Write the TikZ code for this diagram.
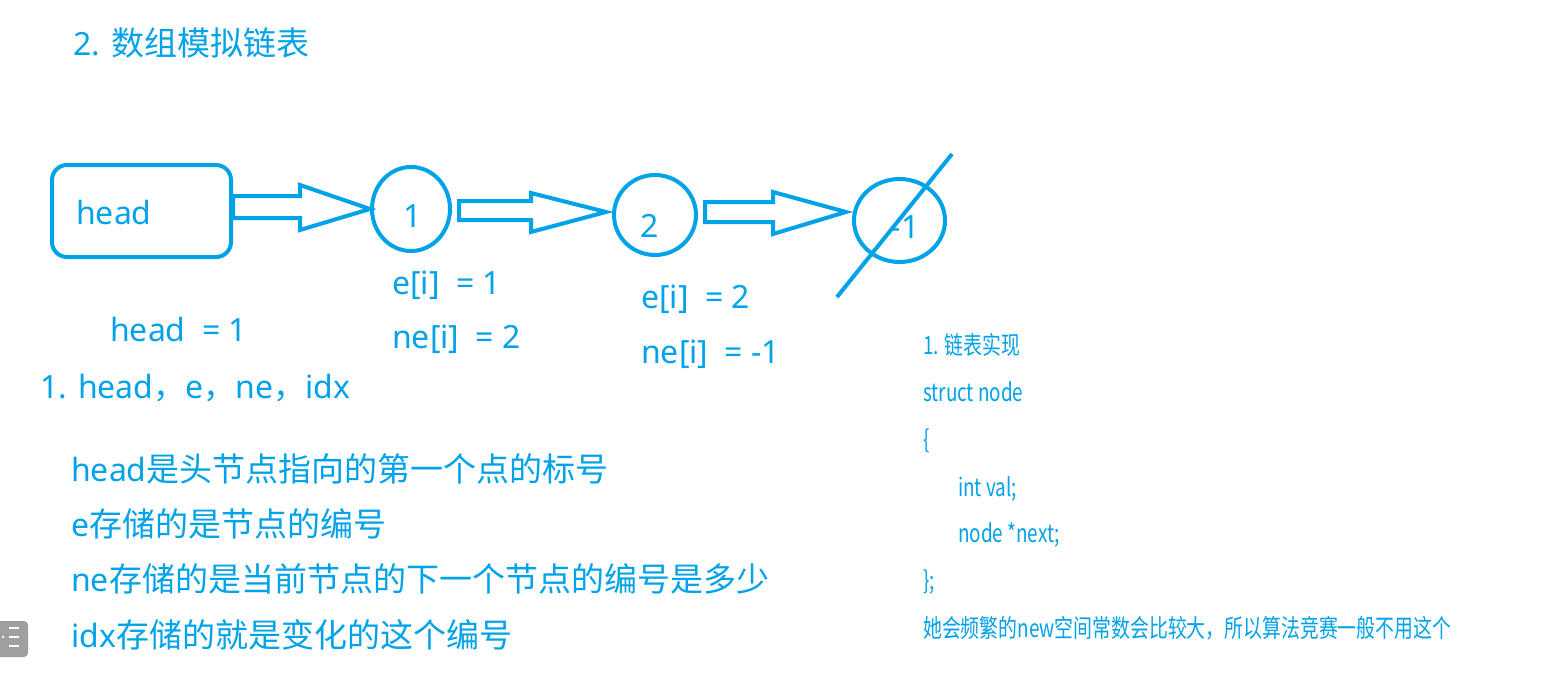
\documentclass[tikz,border=0pt]{standalone}
\usepackage{fontspec}
\setmainfont{Noto Sans}
\newfontfamily\cjk{Noto Sans CJK SC}
\newfontfamily\cond[FakeStretch=0.755]{Noto Sans CJK SC}
\newcommand\ck[1]{{\cjk\fontsize{33}{38}\selectfont #1}}
\usetikzlibrary{calc,shapes.geometric}
\definecolor{bl}{RGB}{0,162,232}
\begin{document}
\begin{tikzpicture}[x=1pt,y=-1pt,
  every node/.style={inner sep=0pt, text=bl},
  txt/.style={anchor=base west, font=\fontsize{32}{38}\selectfont},
  lbl/.style={anchor=base, font=\fontsize{32}{38}\selectfont},
  code/.style={anchor=base west, font=\cond\fontsize{25}{30}\selectfont},
  shp/.style={draw=bl, line width=4pt},
  blk/.style={draw=bl, line width=4pt, line join=miter}]
\useasboundingbox (0,0) rectangle (1551,677);
\fill[white] (0,0) rectangle (1551,677);

\node[txt] (title) at (73,56) {2. \ck{数组模拟链表}};

% list nodes
\node[shp, rectangle, rounded corners=15pt, minimum width=179pt, minimum height=92pt] (head) at (141.5,211) {};
\node[txt] (headlbl) at (76,224) {head};
\node[shp, ellipse, minimum width=78pt, minimum height=84pt] (n1) at (411,209) {};
\node[lbl] (n1lbl) at (413,227) {1};
\node[shp, ellipse, minimum width=82pt, minimum height=80pt] (n2) at (655,215) {};
\node[lbl] (n2lbl) at (650,237) {2};
\node[shp, ellipse, minimum width=91pt, minimum height=83pt] (n3) at (899.5,220.5) {};
\node[lbl] (n3lbl) at (905,238) {-1};
\draw[bl, line width=4pt] ($(n3.center)+(52.5,-66.5)$) -- ($(n3.center)+(-62.5,76.5)$);

% block arrows
\draw[blk] ($(head.east)+(0,-15)$) -- ($(n1.west)+(-70,-13)$) -- ($(n1.west)+(-70,-24)$)
  -- (n1.west) -- ($(n1.west)+(-70,21)$) -- ($(n1.west)+(-70,9)$) -- ($(head.east)+(0,7)$) -- cycle;
\draw[blk] ($(n1.east)+(7,-8)$) -- ($(n2.west)+(-81,-14)$) -- ($(n2.west)+(-81,-22)$)
  -- ($(n2.west)+(-6,-3)$) -- ($(n2.west)+(-81,17)$) -- ($(n2.west)+(-81,5)$) -- ($(n1.east)+(7,11)$) -- cycle;
\draw[blk] ($(n2.east)+(7,-13)$) -- ($(n3.west)+(-79,-18.5)$) -- ($(n3.west)+(-79,-28.5)$)
  -- ($(n3.west)+(-6,-8.5)$) -- ($(n3.west)+(-79,13.5)$) -- ($(n3.west)+(-79,1.5)$) -- ($(n2.east)+(7,7)$) -- cycle;

% labels under nodes
\node[txt] (e1) at (392,294) {e[i]\ \ = 1};
\node[txt] (ne1) at (392,348) {ne[i]\ \ = 2};
\node[txt] (e2) at (641,308) {e[i]\ \ = 2};
\node[txt] (ne2) at (641,363) {ne[i]\ \ = -1};
\node[txt] (h1) at (110,341) {head\ \ = 1};
\node[txt] (list) at (40,398) {1. head{\cjk ，}e{\cjk ，}ne{\cjk ，}idx};

\node[txt] (l1) at (71,481) {head\ck{是头节点指向的第一个点的标号}};
\node[txt] (l2) at (71,536) {e\ck{存储的是节点的编号}};
\node[txt] (l3) at (71,591) {ne\ck{存储的是当前节点的下一个节点的编号是多少}};
\node[txt] (l4) at (71,647) {idx\ck{存储的就是变化的这个编号}};

% code block
\node[code] (c1) at (923,354) {1. 链表实现};
\node[code] (c2) at (923,401) {struct node};
\node[code] (c3) at (923,448) {\{};
\node[code] (c4) at (958,496) {int val;};
\node[code] (c5) at (958,542) {node *next;};
\node[code] (c6) at (923,589) {\};};
\node[code] (c7) at (923,637) {她会频繁的new空间常数会比较大，所以算法竞赛一般不用这个};

% side icon
\fill[gray!75, rounded corners=4pt] (-10,621) rectangle (28,657);
\draw[white, line width=2pt] (9,628) -- (19,628) (9,637) -- (19,637) (9,646) -- (19,646);
\fill[white] (3,637) circle (1.3pt);
\end{tikzpicture}
\end{document}
